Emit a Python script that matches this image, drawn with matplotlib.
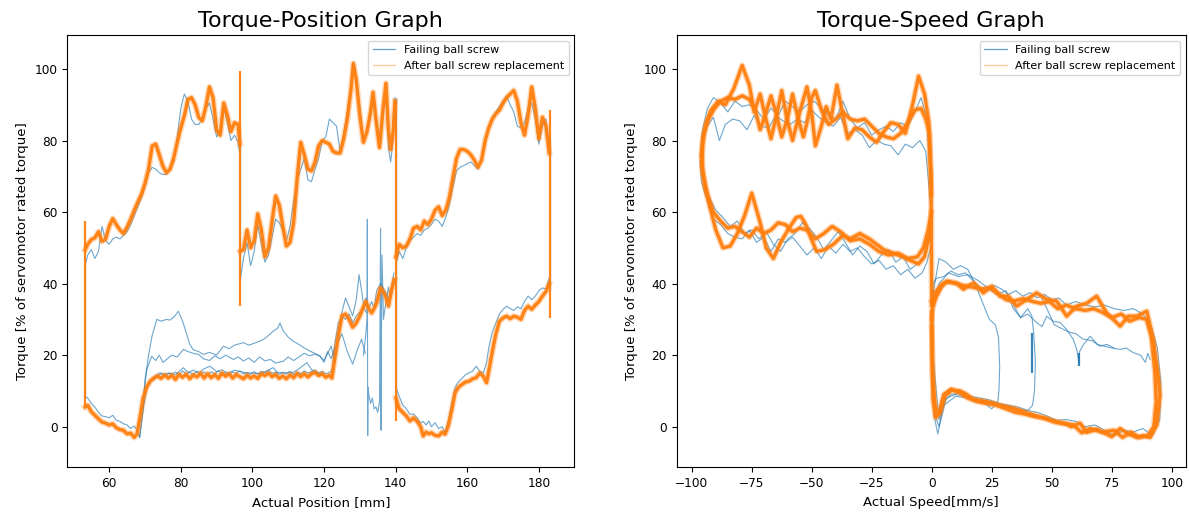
import matplotlib
matplotlib.use("Agg")
import matplotlib.pyplot as plt
from matplotlib.lines import Line2D

BLUE = "#1f77b4"
ORANGE = "#ff7f0e"

# ---------------- Torque-Position data ----------------
# upper branch, segment 1
pos_up1 = [53.3, 54.0, 55.0, 56.0, 57.0, 58.0, 59.0, 60.0, 61.0, 62.0, 63.0, 64.0, 65.0, 66.0, 67.0,
           68.0, 69.0, 70.0, 71.0, 72.0, 73.0, 74.0, 75.0, 76.0, 77.0, 78.0, 79.0, 80.0, 81.0, 82.0,
           83.0, 84.0, 85.0, 86.0, 87.0, 88.0, 89.0, 90.0, 91.0, 92.0, 93.0, 94.0, 95.0, 96.0, 96.5]
after_up1 = [49.5, 51.0, 52.3, 52.8, 54.5, 51.8, 52.5, 56.0, 58.2, 56.5, 55.0, 54.0, 55.8, 58.0, 60.5,
             62.8, 65.0, 68.0, 72.0, 78.5, 79.0, 76.0, 72.8, 71.0, 72.0, 75.0, 79.5, 83.5, 87.0, 91.5,
             92.0, 90.0, 86.5, 85.5, 89.5, 95.0, 92.0, 83.0, 81.5, 90.5, 87.0, 82.5, 85.0, 84.5, 79.0]
fail_up1 = [45.0, 48.0, 49.5, 47.0, 49.0, 56.0, 52.0, 51.0, 52.5, 53.0, 52.5, 53.5, 54.5, 56.5, 59.0,
            61.5, 64.0, 67.0, 71.0, 72.5, 72.0, 71.0, 70.5, 70.5, 72.0, 74.0, 81.0, 89.0, 93.0, 91.0,
            86.0, 84.5, 84.5, 86.0, 89.0, 90.5, 86.0, 81.0, 83.0, 89.5, 85.0, 80.0, 81.5, 79.5, 76.0]

# upper branch, segment 2
pos_up2 = [96.6, 97.5, 98.5, 99.5, 100.5, 101.5, 102.5, 103.5, 104.5, 105.5, 106.5, 107.5, 108.5,
           109.5, 110.5, 111.5, 112.5, 113.5, 114.5, 115.5, 116.5, 117.5, 118.5, 119.5, 120.5, 121.5,
           122.5, 123.5, 124.5, 125.5, 126.5, 127.5, 128.2, 129.0, 130.0, 131.0, 132.0, 133.0, 133.7,
           134.5, 135.5, 136.5, 137.3, 138.0, 138.6, 139.3, 139.8]
after_up2 = [49.0, 49.5, 55.0, 50.0, 52.0, 59.5, 55.0, 47.5, 50.0, 57.5, 64.5, 62.0, 56.0, 50.5, 51.5,
             57.0, 69.5, 79.5, 76.0, 72.0, 71.5, 74.0, 78.5, 80.0, 79.5, 79.0, 77.0, 76.5, 76.5, 80.5,
             86.0, 94.0, 101.5, 97.0, 87.0, 79.5, 82.5, 88.0, 93.5, 86.0, 78.0, 89.0, 96.0, 83.0, 77.5,
             82.5, 91.0]
fail_up2 = [41.0, 47.0, 51.5, 45.0, 49.0, 56.5, 51.0, 46.0, 48.0, 53.0, 58.0, 57.0, 55.0, 52.0, 56.0,
            63.0, 69.0, 72.0, 75.0, 69.0, 68.5, 72.0, 75.0, 80.0, 81.0, 86.0, 85.0, 84.0, 77.0, 82.0,
            88.0, 95.0, 102.0, 98.0, 89.0, 80.0, 83.0, 87.0, 92.5, 86.0, 78.5, 88.0, 92.0, 78.0, 74.0,
            80.0, 92.0]

# upper branch, segment 3
pos_up3 = [140.1, 141.0, 142.0, 143.0, 144.0, 145.0, 146.0, 147.0, 148.0, 149.0, 150.0, 151.0, 152.0,
           153.0, 154.0, 155.0, 156.0, 157.0, 158.0, 159.0, 160.0, 161.0, 162.0, 163.0, 164.0, 165.0,
           166.0, 167.0, 168.0, 169.0, 170.0, 171.0, 172.0, 173.0, 174.0, 175.0, 176.0, 177.0, 178.0,
           179.0, 180.0, 181.0, 182.0, 182.9]
after_up3 = [47.5, 51.0, 50.0, 50.5, 52.5, 55.5, 56.0, 55.0, 57.5, 56.5, 58.0, 60.5, 61.5, 59.0, 60.5,
             64.0, 69.5, 75.0, 77.5, 77.5, 77.0, 76.0, 74.5, 72.5, 74.5, 80.0, 83.5, 86.0, 87.5, 88.5,
             90.5, 92.0, 93.0, 94.0, 91.0, 85.0, 81.5, 87.0, 95.0, 89.0, 80.5, 86.5, 84.0, 76.5]
fail_up3 = [45.5, 49.0, 47.0, 50.0, 52.0, 53.0, 54.0, 53.5, 55.0, 55.5, 56.5, 58.0, 57.5, 56.0, 58.5,
            62.0, 67.0, 71.5, 72.5, 73.0, 73.5, 74.0, 73.0, 72.0, 75.0, 79.0, 84.0, 86.5, 88.0, 89.5,
            91.0, 92.5, 90.0, 88.0, 84.0, 83.5, 85.0, 89.0, 90.5, 86.0, 79.0, 84.0, 86.0, 78.0]

# lower branch 53 -> 140
pos_lo1 = [53.3, 54.0, 55.0, 56.0, 57.0, 58.0, 59.0, 60.0, 61.0, 62.0, 63.0, 64.0, 65.0, 66.0, 67.0,
           67.8, 68.5, 69.5, 70.5, 71.5, 72.5, 73.5, 74.5, 75.5, 76.5, 77.5, 78.5, 79.5, 80.5, 81.5,
           82.5, 83.5, 84.5, 85.5, 86.5, 87.5, 88.5, 89.5, 90.5, 91.5, 92.5, 93.5, 94.5, 95.5, 96.5,
           97.5, 98.5, 99.5, 100.5, 101.5, 102.5, 103.5, 104.5, 105.5, 106.5, 107.5, 108.5, 109.5,
           110.5, 111.5, 112.5, 113.5, 114.5, 115.5, 116.5, 117.5, 118.5, 119.5, 120.5, 121.5, 122.2,
           123.0, 124.0, 125.0, 126.0, 127.0, 128.0, 129.0, 130.0, 131.0, 131.7, 132.5, 133.3, 134.0,
           134.7, 135.8, 137.0, 138.0, 138.9, 139.6]
after_lo1 = [5.5, 6.0, 4.2, 3.2, 2.2, 1.3, 1.0, 0.5, 0.8, -0.3, -0.8, -1.0, -2.0, -1.8, -3.0,
             -2.0, 2.0,
             8.0, 11.2, 12.8, 13.6, 14.2, 13.5, 14.5, 13.6, 14.4, 13.2, 14.6, 13.8, 14.7, 13.4, 14.5,
             13.9, 15.0, 13.6, 14.8, 13.7, 14.6, 13.5, 15.0, 14.1, 14.8, 13.6, 14.6, 14.0, 13.4, 14.4,
             13.6, 14.2, 13.5, 14.8, 14.3, 15.0, 14.0, 14.6, 13.5, 14.2, 13.4, 14.5, 13.7, 14.9, 14.0,
             14.8, 13.9, 14.8, 15.2, 14.3, 14.8, 13.8, 14.4,
             13.6,
             19.0, 25.5, 31.0, 31.5, 30.0, 27.8, 29.0, 31.0, 33.5,
             35.0, 33.0, 31.8, 33.0, 34.6, 38.8, 37.0, 33.7, 38.4, 41.1]
fail_lo1 = [8.5, 8.0, 6.5, 5.5, 4.0, 3.0, 2.8, 2.5, 3.2, 1.8, 1.5, 0.8, 0.5, -0.5, 0.2,
            -1.0, -3.0,
            5.0, 10.5, 12.5, 13.2, 14.0, 14.8, 14.2, 15.0, 14.6, 15.3, 14.5, 15.6, 14.8, 15.2, 14.6,
            15.5, 14.9, 15.3, 14.6, 15.4, 14.8, 15.6, 14.7, 15.1, 14.5, 15.3, 14.9, 15.6, 14.8, 15.0,
            14.6, 15.4, 14.7, 15.5, 15.0, 15.8, 14.9, 15.3, 14.6, 15.2, 14.8, 15.5, 14.6, 15.3, 14.8,
            15.6, 15.0, 15.4, 15.9, 15.0, 15.5, 14.8, 15.2,
            15.5,
            23.0, 29.0, 31.0, 30.0, 31.5, 29.0, 31.0, 32.0, 33.0,
            36.0, 33.0, 35.0, 33.0, 38.0, 40.0, 38.0, 36.0, 37.5, 40.0]

# lower branch 140 -> 184
pos_lo2 = [140.1, 141.0, 142.0, 143.0, 144.0, 145.0, 146.0, 147.0, 147.7, 148.5, 149.3, 150.0, 151.0,
           152.0, 153.0, 153.8, 154.7, 155.7, 156.6, 157.5, 158.5, 159.5, 160.5, 161.5, 162.5, 163.5,
           164.5, 165.4, 166.0, 167.0, 168.0, 169.0, 170.0, 171.0, 172.0, 173.0, 174.0, 175.0, 176.0,
           177.0, 178.0, 179.0, 180.0, 181.0, 182.0, 182.9]
after_lo2 = [8.0, 5.0, 4.0, 3.0, 1.6, 2.5, 1.5, 0.0, -2.6, -1.5, -2.0, -1.7, -2.4, -2.6, -1.5, -2.1,
             0.2, 4.8, 9.5, 11.0, 11.8, 12.5, 12.7, 13.4, 13.7, 15.0, 14.1, 12.3, 15.5, 21.0, 26.0,
             29.5, 30.4, 30.9, 30.2, 30.9, 30.6, 30.0, 32.5, 33.7, 32.8, 34.0, 35.0, 36.5, 37.8, 40.0]
fail_lo2 = [10.9, 8.5, 6.0, 5.0, 3.5, 3.5, 2.5, 1.0, 1.5, 0.5, 1.6, 0.0, 1.1, -0.5, 0.0, -1.7,
            1.5, 6.7, 11.0, 12.5, 13.5, 14.5, 15.1, 15.5, 16.9, 15.5, 15.0, 18.0, 22.0, 26.5, 29.0,
            31.5, 32.8, 33.7, 33.0, 32.5, 33.5, 33.0, 35.0, 36.5, 35.5, 36.5, 38.0, 38.8, 38.5, 41.6]

# extra failing-screw runs on the lower branch
pos_fa = [68.5, 69.5, 70.0, 71.0, 72.0, 73.3, 74.5, 76.0, 77.0, 78.4, 79.3, 80.5, 81.6, 82.5, 83.5,
          85.0, 86.3, 88.0, 90.0, 91.9, 93.5, 95.0, 97.5, 99.0, 101.0, 103.1, 104.5, 105.8, 107.0,
          107.7, 108.5, 110.0, 111.4, 113.0, 114.5, 116.1, 117.5, 118.9, 120.0, 121.0, 122.0, 123.0,
          124.0, 125.0, 126.0, 127.0, 128.0, 129.0, 129.8, 130.5, 131.2, 131.8]
trq_fa = [-3.0, 5.0, 13.0, 20.0, 25.5, 30.0, 29.5, 30.0, 29.8, 31.0, 32.3, 29.5, 26.0, 23.0, 21.5,
          21.0, 20.2, 20.8, 20.0, 22.5, 21.8, 22.8, 23.5, 22.8, 23.5, 24.4, 25.5, 26.7, 27.5, 29.0,
          27.0, 25.0, 23.9, 23.0, 22.0, 21.1, 20.5, 19.7, 18.5, 20.5, 22.5, 18.0, 25.0, 32.0, 36.0,
          33.5, 31.0, 35.5, 42.5, 38.0, 33.0, 32.0]
pos_fb = [69.5, 70.5, 71.9, 73.0, 74.0, 75.0, 76.0, 77.5, 79.0, 80.7, 82.0, 83.5, 85.0, 86.3, 88.0,
          89.5, 91.0, 92.5, 94.7, 96.0, 97.5, 99.0, 100.5, 102.0, 103.5, 105.0, 106.5, 108.6, 110.0,
          111.5, 113.0, 114.5, 116.0, 117.5, 118.9, 120.0, 121.0, 122.0, 123.0, 124.0, 125.0, 126.5,
          128.0, 129.5, 130.5, 131.5]
trq_fb = [8.0, 16.0, 19.7, 18.5, 20.0, 18.0, 18.8, 20.0, 19.5, 21.6, 21.0, 20.5, 20.2, 19.0, 18.5,
          19.8, 19.0, 20.0, 18.8, 19.5, 18.4, 19.2, 18.0, 19.5, 18.4, 18.8, 17.8, 18.3, 19.5, 18.5,
          19.5, 20.5, 19.8, 20.3, 19.7, 18.0, 21.0, 19.0, 22.0, 24.0, 26.0, 21.0, 17.5, 22.0, 24.5,
          20.5]
pos_fc = [71.0, 72.5, 74.2, 75.5, 77.0, 78.5, 80.7, 82.0, 83.5, 85.0, 86.5, 88.2, 90.0, 91.5, 93.0,
          95.0, 97.5, 100.0, 102.0, 103.5, 105.8, 107.0, 109.0, 111.4, 113.0, 115.2, 116.5, 118.0,
          119.5]
trq_fc = [12.5, 14.0, 15.1, 14.6, 15.0, 14.5, 16.5, 15.2, 15.8, 15.0, 16.2, 16.9, 15.4, 15.9, 15.0,
          15.8, 15.2, 15.0, 14.8, 15.4, 16.5, 15.2, 15.0, 15.2, 16.2, 17.9, 16.0, 15.0, 14.5]
pos_sp = [131.0, 131.6, 132.0, 132.1, 132.2, 132.3, 132.5, 133.0, 133.5, 134.0, 134.5, 135.0, 135.5,
          135.8, 135.9, 136.0, 136.2, 136.6, 137.0, 137.5, 138.0, 138.5, 139.0, 139.5]
trq_sp = [20.0, 25.0, 30.0, 58.0, -2.5, 11.0, 9.0, 6.5, 8.0, 5.0, 5.5, 4.0, 7.0, 55.5, -1.0, 20.0,
          48.0, 30.0, 33.0, 36.0, 39.0, 36.0, 40.0, 43.0]

# stops at the end of each move
stop_pos = [53.3, 96.5, 140.0, 183.1]
stop_after_lo = [5.5, 33.7, 1.6, 30.4]
stop_after_hi = [57.5, 99.3, 91.0, 88.6]
stop_fail_lo = [8.0, 41.0, 6.0, 38.0]
stop_fail_hi = [45.0, 79.5, 92.0, 81.0]

# ---------------- Torque-Speed data ----------------
spd_na = [-0.3, -1.5, -3.0, -5.5, -9.0, -12.0, -16.0, -20.0, -23.0, -26.0,
          -30.0, -34.0, -37.0, -41.0, -44.5, -48.0, -50.5, -52.5, -54.5, -56.5,
          -59.5, -63.0, -66.0, -69.0, -71.5, -75.0, -78.0, -81.0, -84.0, -87.0,
          -90.0, -92.5, -94.5, -95.7, -95.5, -94.0, -92.0, -89.0, -86.0, -82.5,
          -79.0, -76.0, -74.0, -71.5, -69.5, -67.0, -64.5, -62.5, -60.5, -58.0,
          -55.0, -52.0, -50.0, -48.5, -46.0, -44.0, -42.0, -39.5, -37.0, -35.0,
          -32.0, -29.0, -26.0, -23.0, -20.0, -17.0, -14.0, -11.0, -8.0, -5.5,
          -3.0, -1.2, -0.3, -0.1, 0.0]
trq_na = [57.0, 52.0, 47.5, 45.5, 46.5, 47.5, 48.5, 49.5, 51.0, 52.5,
          54.0, 52.5, 53.5, 51.0, 49.5, 49.0, 53.0, 56.5, 58.8, 58.5,
          55.5, 51.5, 47.0, 50.0, 57.0, 65.3, 59.0, 54.0, 50.5, 50.0,
          55.0, 61.5, 67.0, 73.0, 79.5, 85.0, 88.5, 91.0, 90.0, 94.5,
          101.0, 95.5, 88.0, 93.0, 87.0, 80.5, 87.5, 94.0, 86.5, 80.0,
          88.0, 95.0, 87.5, 78.5, 84.0, 89.5, 86.0, 95.5, 87.0, 80.5,
          83.5, 83.0, 81.0, 79.5, 82.5, 85.0, 84.5, 82.0, 90.0, 98.0,
          93.0, 85.0, 70.0, 45.0, 34.0]
spd_nb = [-0.2, -1.5, -3.5, -6.0, -10.0, -14.0, -18.0, -22.0, -26.0, -30.0,
          -34.0, -38.0, -41.5, -45.0, -48.5, -52.0, -55.0, -58.0, -61.0, -64.0,
          -67.0, -70.0, -73.0, -76.0, -79.0, -82.0, -85.0, -88.0, -91.0, -93.5,
          -95.5, -96.0, -95.0, -93.0, -90.5, -88.0, -85.0, -82.0, -79.0, -76.0,
          -73.5, -71.5, -69.0, -67.0, -65.0, -62.5, -60.0, -58.0, -56.0, -53.5,
          -52.0, -50.0, -48.5, -46.0, -43.0, -40.0, -37.0, -34.0, -31.0, -28.0,
          -25.0, -22.0, -19.0, -16.0, -13.0, -10.0, -7.0, -4.5, -2.5, -1.0, -0.2]
trq_nb = [60.0, 55.0, 50.0, 47.5, 47.0, 48.5, 48.0, 49.0, 51.0, 52.5,
          52.0, 54.5, 56.0, 54.0, 52.5, 55.0, 55.5, 54.5, 56.5, 57.0,
          55.0, 54.0, 55.5, 53.0, 54.5, 56.0, 55.5, 57.5, 60.0, 65.0,
          71.0, 76.0, 82.0, 86.0, 89.0, 91.0, 92.0, 91.5, 92.5, 91.5,
          88.5, 83.0, 88.0, 92.5, 88.0, 81.0, 86.5, 93.0, 87.0, 81.0,
          85.0, 92.0, 94.0, 88.5, 84.5, 86.0, 88.0, 86.0, 85.5, 86.0,
          84.0, 82.0, 81.0, 80.5, 82.0, 85.0, 88.5, 89.0, 86.0, 82.0, 65.0]
spd_nf1 = [-0.5, -2.0, -4.0, -7.0, -10.0, -13.0, -16.0, -19.0, -22.0, -25.0,
           -28.0, -31.0, -34.0, -37.0, -40.0, -43.0, -46.0, -49.0, -52.0, -55.0,
           -58.0, -61.0, -64.0, -67.0, -70.0, -73.0, -76.0, -79.0, -82.0, -85.0,
           -88.0, -91.0, -93.5, -96.0, -96.5, -95.5, -93.5, -91.0, -88.5, -86.0,
           -83.0, -80.0, -77.0, -74.0, -71.0, -68.0, -65.0, -62.0, -59.0, -56.0,
           -53.0, -50.0, -47.0, -44.0, -41.0, -38.0, -35.0, -32.0, -29.0, -26.0,
           -23.0, -20.0, -17.0, -14.0, -11.0, -8.0, -5.0, -2.5, -0.5]
trq_nf1 = [50.0, 46.0, 43.0, 41.5, 44.0, 42.5, 45.0, 44.0, 46.5, 45.5,
           47.5, 50.0, 49.0, 51.0, 48.5, 50.5, 47.0, 50.0, 48.0, 50.5,
           53.0, 51.5, 52.5, 49.0, 53.0, 51.5, 55.0, 52.5, 53.0, 54.0,
           56.5, 58.0, 63.0, 68.5, 74.0, 80.0, 84.0, 86.5, 80.0, 84.5,
           86.0, 85.5, 83.0, 87.0, 84.0, 83.5, 87.0, 85.5, 84.5, 86.0,
           85.0, 88.5, 86.5, 85.0, 84.0, 86.5, 82.0, 83.0, 81.5, 78.0,
           80.0, 79.0, 78.5, 76.0, 79.0, 78.0, 80.0, 77.0, 62.0]
spd_nf2 = [-0.5, -3.0, -6.0, -9.0, -12.0, -15.0, -18.0, -21.0, -24.0, -27.0,
           -30.0, -33.0, -36.0, -39.0, -42.0, -45.0, -48.0, -51.0, -54.0, -57.0,
           -60.0, -63.0, -66.0, -69.0, -72.0, -75.0, -78.0, -81.0, -84.0, -87.0,
           -90.0, -93.0, -95.5, -96.5, -95.5, -93.5, -91.0, -88.0, -85.0, -82.0,
           -79.0, -76.0, -73.0, -70.0, -67.0, -64.0, -61.0, -58.0, -55.0, -52.0,
           -49.0, -46.0, -43.0, -40.0, -37.0, -34.0, -31.0, -28.0, -25.0, -22.0,
           -19.0, -16.0, -13.0, -10.0, -7.0, -4.5, -2.0, -0.5]
trq_nf2 = [55.0, 48.0, 45.5, 44.0, 47.5, 46.0, 49.5, 48.0, 45.5, 49.0,
           50.5, 48.0, 51.5, 54.5, 52.0, 49.5, 53.0, 55.5, 57.0, 54.0,
           52.5, 49.0, 51.0, 54.5, 52.5, 55.0, 54.0, 57.5, 56.0, 58.5,
           60.5, 64.5, 70.0, 76.0, 83.0, 89.0, 92.0, 90.5, 88.0, 91.0,
           89.5, 90.0, 88.5, 86.0, 89.0, 87.0, 91.0, 89.5, 88.0, 90.0,
           91.0, 89.0, 87.0, 86.0, 91.0, 86.0, 83.5, 85.0, 81.5, 83.0,
           84.0, 82.5, 85.0, 84.0, 88.0, 92.0, 86.0, 66.0]

spd_pa = [0.0, 0.7, 2.0, 4.0, 6.2, 8.5, 10.4, 13.2, 15.5, 17.5,
          21.5, 25.0, 28.5, 31.9, 35.4, 39.6, 43.7, 47.9, 52.1, 56.2,
          60.4, 64.6, 68.7, 72.9, 78.5, 81.9, 85.4, 89.6, 92.3, 94.4,
          95.1, 93.8, 91.0, 88.0, 85.4, 81.9, 78.5, 75.0, 72.9, 68.7,
          64.6, 61.8, 58.0, 56.2, 52.1, 47.9, 43.7, 39.6, 35.4, 31.9,
          28.5, 25.0, 21.5, 17.3, 14.6, 11.8, 8.3, 5.5, 3.5, 2.8,
          1.4, 0.3, 0.0]
trq_pa = [35.0, 34.0, 36.5, 39.0, 40.7, 40.3, 40.0, 38.4, 39.5, 40.2,
          37.4, 39.3, 36.5, 36.5, 33.7, 35.6, 37.4, 35.6, 35.1, 30.9,
          33.7, 34.5, 36.5, 31.8, 28.1, 30.9, 30.9, 32.3, 24.4, 14.2,
          8.6, 0.5, -3.0, -2.5, -3.0, -2.0, -0.5, -2.8, -2.1, -0.7,
          -1.6, 1.0, 0.0, 0.7, 1.2, 2.1, 3.0, 3.9, 4.9, 5.5,
          6.0, 6.7, 7.2, 7.7, 9.0, 10.0, 10.2, 8.6, 4.0, 3.5,
          5.8, 15.0, 32.0]
spd_pb = [0.0, 0.7, 2.0, 4.5, 7.0, 10.0, 13.0, 17.0, 21.0, 24.0,
          27.0, 31.0, 34.0, 38.0, 42.0, 45.5, 49.0, 52.5, 56.0, 60.0,
          64.0, 67.5, 71.0, 75.0, 79.0, 82.5, 86.5, 89.5, 91.5, 93.0,
          93.5, 92.5, 90.0, 86.5, 83.0, 79.5, 76.0, 71.0, 66.0, 62.5,
          59.0, 55.0, 51.0, 47.0, 43.0, 39.0, 35.0, 31.0, 27.0, 23.0,
          19.0, 15.0, 11.5, 8.0, 5.0, 3.0, 1.5, 0.5, 0.0]
trq_pb = [30.0, 36.5, 38.0, 40.0, 40.5, 40.2, 39.5, 39.0, 38.5, 38.8,
          37.5, 35.5, 35.1, 35.8, 35.0, 34.5, 35.0, 33.0, 34.0, 33.0,
          32.5, 33.0, 32.0, 30.5, 31.5, 29.5, 30.5, 30.0, 25.0, 15.0,
          7.0, 0.0, -2.5, -3.0, -1.5, -3.0, -1.0, -1.5, -0.5, -1.7,
          0.5, 1.0, 1.5, 2.5, 2.8, 3.5, 4.0, 5.0, 6.0, 6.5,
          7.0, 8.0, 9.5, 10.5, 9.0, 3.5, 2.5, 8.0, 28.0]
spd_pf1 = [0.0, 0.5, 2.0, 5.0, 8.0, 11.0, 14.0, 17.0, 20.0, 23.0,
           26.0, 29.0, 32.0, 35.0, 38.0, 41.0, 44.0, 47.0, 50.0, 53.0,
           56.0, 60.0, 64.0, 68.0, 72.0, 76.0, 80.0, 84.0, 88.0, 91.5,
           94.0, 95.5, 95.0, 92.0, 88.0, 84.0, 80.0, 76.0, 72.0, 68.0,
           64.0, 60.0, 56.0, 52.0, 48.0, 44.0, 40.0, 36.0, 32.0, 28.0,
           24.0, 20.0, 16.0, 12.0, 8.0, 5.0, 3.0, 1.5, 0.2, 0.0]
trq_pf1 = [30.0, 40.0, 41.5, 42.0, 43.5, 42.5, 43.0, 41.0, 39.0, 38.0,
           39.5, 38.5, 37.0, 38.0, 36.5, 37.5, 36.0, 37.0, 35.5, 36.0,
           34.0, 35.0, 34.0, 33.5, 34.0, 33.0, 32.5, 33.0, 31.5, 28.0,
           22.0, 12.0, 2.0, -2.5, -0.5, -1.5, -1.0, -2.5, -1.0, 0.5,
           0.0, 1.5, 2.0, 1.8, 3.0, 4.0, 4.5, 5.5, 6.0, 6.5,
           7.5, 8.0, 8.5, 9.5, 9.0, 7.0, 0.0, 3.0, 10.0, 30.0]
spd_pf2 = [0.3, 3.0, 6.0, 9.0, 12.0, 15.0, 18.0, 21.0, 24.0, 26.5,
           27.8, 28.3, 28.0, 27.5, 25.0, 22.0, 18.0, 14.0, 10.0, 6.0,
           3.5, 2.5, 1.0, 0.2]
trq_pf2 = [36.0, 47.0, 46.0, 44.0, 45.0, 44.0, 40.0, 35.0, 30.0, 28.5,
           25.0, 17.0, 10.0, 7.0, 5.0, 6.5, 7.5, 8.5, 9.0, 8.0,
           1.0, -2.0, 3.0, 20.0]
spd_pf3 = [0.5, 3.0, 7.0, 11.0, 15.0, 19.0, 23.0, 27.0, 31.0, 34.0,
           37.0, 40.0, 41.7, 42.5, 43.2, 42.8, 42.0, 40.0, 35.0, 30.0,
           25.0, 20.0, 15.0, 10.0, 5.0, 3.0, 0.5]
trq_pf3 = [35.0, 40.0, 43.0, 42.0, 42.5, 41.0, 39.0, 37.0, 38.0, 33.0,
           30.5, 33.0, 31.0, 26.0, 18.0, 10.0, 6.0, 4.5, 5.0, 6.0,
           7.0, 7.5, 8.0, 8.5, 6.0, 2.0, 20.0]
spd_pf4 = [34.0, 37.0, 40.0, 43.7, 46.0, 47.9, 50.5, 53.5, 56.2, 59.0,
           60.4, 61.3, 61.6, 63.2, 66.0, 69.0, 72.0, 75.0, 78.5, 81.0,
           84.0, 87.0, 89.0, 90.0, 91.0]
trq_pf4 = [34.0, 30.5, 31.5, 29.1, 28.0, 30.9, 29.5, 29.1, 27.2, 24.4,
           21.6, 18.0, 21.0, 23.0, 25.3, 23.0, 22.5, 22.0, 21.6, 22.0,
           20.7, 20.0, 18.0, 20.5, 18.8]
spd_pf5 = [45.0, 48.0, 51.0, 54.0, 57.0, 60.0, 63.0, 67.0, 70.0, 73.0, 76.0]
trq_pf5 = [37.0, 33.0, 28.5, 27.5, 26.5, 26.0, 24.5, 24.0, 22.5, 23.0, 22.0]
spike_spd = [41.7, 61.5]
spike_lo = [15.1, 17.0]
spike_hi = [26.3, 20.5]


def fail_line(ax, x, y):
    ax.plot(x, y, color=BLUE, lw=0.8, alpha=0.65)


def after_line(ax, x, y):
    # several nearly identical runs stack up into a thick band
    ax.plot(x, y, color=ORANGE, lw=4.4, alpha=0.3)
    ax.plot(x, y, color=ORANGE, lw=2.4, alpha=0.95)


fig = plt.figure(figsize=(11.89, 5.13), dpi=100)
ax1 = fig.add_axes([0.0566, 0.0887, 0.4264, 0.8431])
ax2 = fig.add_axes([0.5691, 0.0887, 0.4281, 0.8431])

# ---- left: torque vs position ----
for x, y in [(pos_up1, fail_up1), (pos_up2, fail_up2), (pos_up3, fail_up3),
             (pos_lo1, fail_lo1), (pos_lo2, fail_lo2), (pos_fa, trq_fa),
             (pos_fb, trq_fb), (pos_fc, trq_fc), (pos_sp, trq_sp)]:
    fail_line(ax1, x, y)
ax1.vlines(stop_pos, stop_fail_lo, stop_fail_hi, color=BLUE, lw=0.9, alpha=0.7)
for x, y in [(pos_up1, after_up1), (pos_up2, after_up2), (pos_up3, after_up3),
             (pos_lo1, after_lo1), (pos_lo2, after_lo2)]:
    after_line(ax1, x, y)
ax1.vlines(stop_pos, stop_after_lo, stop_after_hi, color=ORANGE, lw=1.6, alpha=0.95)

ax1.set_xlim(48.3, 189.9)
ax1.set_ylim(-11.4, 109.5)
ax1.set_title("Torque-Position Graph", fontsize=16)
ax1.set_xlabel("Actual Position [mm]", fontsize=9.5)
ax1.set_ylabel("Torque [% of servomotor rated torque]", fontsize=9.5)

# ---- right: torque vs speed ----
for x, y in [(spd_nf1, trq_nf1), (spd_nf2, trq_nf2), (spd_pf1, trq_pf1), (spd_pf2, trq_pf2),
             (spd_pf3, trq_pf3), (spd_pf4, trq_pf4), (spd_pf5, trq_pf5)]:
    fail_line(ax2, x, y)
ax2.vlines(spike_spd, spike_lo, spike_hi, color=BLUE, lw=1.6, alpha=0.9)
for x, y in [(spd_na, trq_na), (spd_nb, trq_nb), (spd_pa, trq_pa), (spd_pb, trq_pb)]:
    after_line(ax2, x, y)

ax2.set_xlim(-106.3, 105.8)
ax2.set_ylim(-11.4, 109.5)
ax2.set_title("Torque-Speed Graph", fontsize=16)
ax2.set_xlabel("Actual Speed[mm/s]", fontsize=9.5)
ax2.set_ylabel("Torque [% of servomotor rated torque]", fontsize=9.5)

handles = [Line2D([], [], color=BLUE, lw=0.9, alpha=0.7),
           Line2D([], [], color=ORANGE, lw=0.9, alpha=0.45)]
labels = ["Failing ball screw", "After ball screw replacement"]
for ax in (ax1, ax2):
    ax.tick_params(labelsize=8.7)
    ax.legend(handles, labels, loc="upper right", fontsize=8)

fig.savefig("out.png", dpi=100)
